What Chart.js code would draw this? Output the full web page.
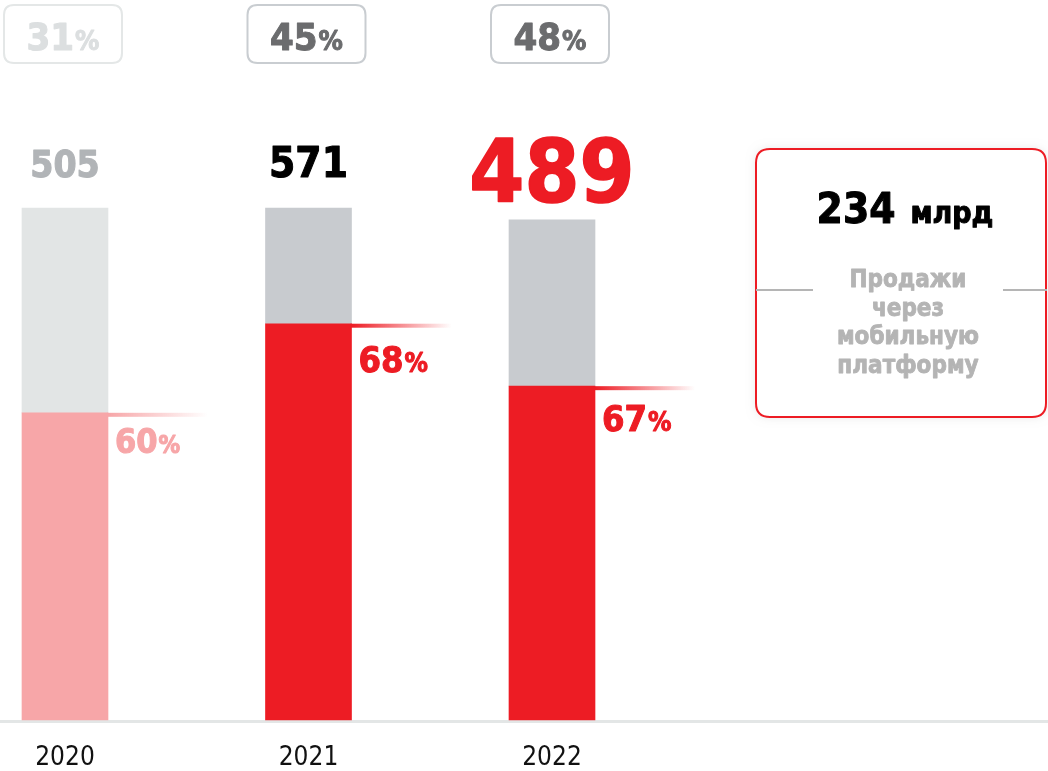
<!DOCTYPE html>
<html><head><meta charset="utf-8">
<script src="https://cdn.jsdelivr.net/npm/chart.js@4/dist/chart.umd.min.js"></script>
<style>html,body{margin:0;padding:0;background:#fff;overflow:hidden}#wrap{width:1048px;height:771px;position:relative}</style>
</head><body><div id="wrap"><canvas id="c" width="1048" height="771"></canvas></div>
<script>
// ---- data ----
const years = ['2020', '2021', '2022'];
const totalValues = [505, 571, 489];          // number above each bar
const redShare = [60, 68, 67];                // % next to the red segment
const mobileShare = [31, 45, 48];             // % in the boxes at the top
const lowerSegment = [60, 77.4, 65.2];        // drawn height of red part (bar units)
const upperSegment = [40, 22.6, 32.5];        // drawn height of grey part (bar units)
const summaryValue = '234';
const summaryUnit = 'млрд';
const summaryText = ['Продажи', 'через', 'мобильную', 'платформу'];

// ---- styles ----
const FAM = '"DejaVu Sans Condensed", "DejaVu Sans", sans-serif';
const lowerColors = ['#f7a6a8', '#ed1c24', '#ed1c24'];
const upperColors = ['#e2e5e5', '#c8cbcf', '#c8cbcf'];
const totalStyle = [
  {size: 37, color: '#b1b4b7', gap: 31, stroke: 1},
  {size: 42, color: '#000000', gap: 31, stroke: 1},
  {size: 88, color: '#ed1c24', gap: 18, stroke: 1.6}
];
const shareStyle = [
  {color: '#f7a6a8', line: 'rgba(247,166,168,', gap: 40, size: 34, pct: 24},
  {color: '#ed1c24', line: 'rgba(237,28,36,', gap: 48, size: 36, pct: 26},
  {color: '#ed1c24', line: 'rgba(237,28,36,', gap: 45, size: 36, pct: 26}
];
const boxStyle = [
  {border: '#e4e7e7', color: '#dcdfe0'},
  {border: '#c9cdd1', color: '#6b6c6e'},
  {border: '#c9cdd1', color: '#6b6c6e'}
];

function rr(ctx, x, y, w, h, r) {
  ctx.beginPath();
  ctx.moveTo(x + r, y);
  ctx.lineTo(x + w - r, y);
  ctx.quadraticCurveTo(x + w, y, x + w, y + r);
  ctx.lineTo(x + w, y + h - r);
  ctx.quadraticCurveTo(x + w, y + h, x + w - r, y + h);
  ctx.lineTo(x + r, y + h);
  ctx.quadraticCurveTo(x, y + h, x, y + h - r);
  ctx.lineTo(x, y + r);
  ctx.quadraticCurveTo(x, y, x + r, y);
  ctx.closePath();
}
function drawParts(ctx, parts, x, y, align, stroke) {
  let total = 0;
  parts.forEach(p => { ctx.font = p.font; p.w = ctx.measureText(p.text).width; total += p.w + (p.gap || 0); });
  let cx = align === 'center' ? x - total / 2 : x;
  ctx.textAlign = 'left';
  ctx.textBaseline = 'alphabetic';
  ctx.lineJoin = 'round';
  parts.forEach(p => {
    ctx.font = p.font; ctx.fillStyle = p.color;
    ctx.fillText(p.text, cx, y);
    if (stroke) { ctx.strokeStyle = p.color; ctx.lineWidth = stroke; ctx.strokeText(p.text, cx, y); }
    cx += p.w + (p.gap || 0);
  });
}

const decor = {
  id: 'decor',
  beforeDatasetsDraw(chart) {
    const ctx = chart.ctx, ys = chart.scales.y;
    const y0 = ys.getPixelForValue(0);
    ctx.save();
    ctx.fillStyle = '#e3e6e6';
    ctx.fillRect(0, y0, chart.width, 3);
    ctx.restore();
  },
  afterDatasetsDraw(chart) {
    const ctx = chart.ctx, xs = chart.scales.x, ys = chart.scales.y;
    const meta = chart.getDatasetMeta(0);
    ctx.save();
    years.forEach((yr, i) => {
      const cx = xs.getPixelForValue(i);
      const bar = meta.data[i];
      const half = bar.width / 2;
      const top = ys.getPixelForValue(lowerSegment[i] + upperSegment[i]);
      const redTop = ys.getPixelForValue(lowerSegment[i]);
      const ss = shareStyle[i];
      // gradient line
      const x1 = cx + half, x2 = x1 + 100;
      const g = ctx.createLinearGradient(x1, 0, x2, 0);
      g.addColorStop(0, ss.line + '1)');
      g.addColorStop(1, ss.line + '0)');
      ctx.fillStyle = g;
      ctx.fillRect(x1 - 1, redTop, x2 - x1 + 1, 4);
      // share label
      drawParts(ctx, [
        {text: String(redShare[i]), font: 'bold ' + ss.size + 'px ' + FAM, color: ss.color, gap: 1},
        {text: '%', font: 'bold ' + ss.pct + 'px ' + FAM, color: ss.color}
      ], x1 + 7, redTop + ss.gap, 'left', 1);
      // total
      const ts = totalStyle[i];
      drawParts(ctx, [{text: String(totalValues[i]), font: 'bold ' + ts.size + 'px ' + FAM, color: ts.color}],
        cx, top - ts.gap, 'center', ts.stroke);
      // top box
      const bs = boxStyle[i];
      const bx = cx - 2 - 59;
      ctx.lineWidth = 2;
      ctx.strokeStyle = bs.border;
      rr(ctx, bx, 5, 118, 58, 10);
      ctx.stroke();
      drawParts(ctx, [
        {text: String(mobileShare[i]), font: 'bold 38px ' + FAM, color: bs.color, gap: 1},
        {text: '%', font: 'bold 27px ' + FAM, color: bs.color}
      ], cx - 2, 50, 'center', 1);
    });
    // summary box
    ctx.save();
    ctx.shadowColor = 'rgba(0,0,0,0.10)';
    ctx.shadowBlur = 10;
    ctx.fillStyle = '#ffffff';
    rr(ctx, 756, 149, 290, 268, 14);
    ctx.fill();
    ctx.restore();
    ctx.lineWidth = 2;
    ctx.strokeStyle = '#ed1c24';
    rr(ctx, 756, 149, 290, 268, 14);
    ctx.stroke();
    ctx.fillStyle = '#b5b5b5';
    ctx.fillRect(756, 289, 57, 2);
    ctx.fillRect(1003, 289, 44, 2);
    drawParts(ctx, [
      {text: summaryValue, font: 'bold 42px ' + FAM, color: '#000', gap: 15},
      {text: summaryUnit, font: 'bold 30px ' + FAM, color: '#000'}
    ], 905, 223, 'center', 1);
    ctx.textAlign = 'center';
    ctx.textBaseline = 'alphabetic';
    ctx.fillStyle = '#b4b4b4';
    ctx.strokeStyle = '#b4b4b4';
    ctx.lineWidth = 0.8;
    ctx.font = 'bold 24px ' + FAM;
    summaryText.forEach((t, k) => {
      ctx.fillText(t, 908, 287 + k * 28.5);
      ctx.strokeText(t, 908, 287 + k * 28.5);
    });
    ctx.restore();
  }
};

new Chart(document.getElementById('c'), {
  type: 'bar',
  data: {
    labels: years,
    datasets: [
      {label: 'red', data: lowerSegment, backgroundColor: lowerColors, barThickness: 86, borderWidth: 0, clip: false},
      {label: 'grey', data: upperSegment, backgroundColor: upperColors, barThickness: 86, borderWidth: 0, clip: false}
    ]
  },
  options: {
    responsive: false,
    animation: false,
    devicePixelRatio: 1,
    layout: {padding: {left: 65, right: 496, top: 208, bottom: 0}},
    plugins: {legend: {display: false}, tooltip: {enabled: false}},
    scales: {
      x: {
        stacked: true, offset: false,
        grid: {display: false}, border: {display: false},
        ticks: {color: '#111', font: {family: FAM, size: 26}, padding: 15, maxRotation: 0, autoSkip: false},
        afterFit: s => { s.height = 51; }
      },
      y: {stacked: true, display: false, min: 0, max: 100}
    }
  },
  plugins: [decor]
});
</script></body></html>
